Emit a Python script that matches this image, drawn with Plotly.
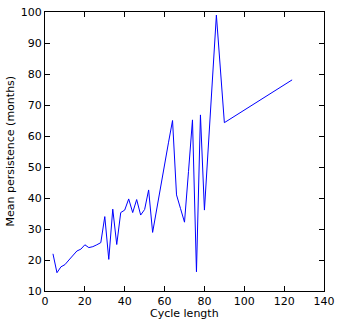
import plotly.graph_objects as go

cycle_length = [4, 6, 8, 10, 12, 14, 16, 18, 20, 22, 24, 26, 28, 30, 32, 34, 36, 38,
                40, 42, 44, 46, 48, 50, 52, 54, 56, 58, 60, 62, 64, 66, 68, 70, 72,
                74, 76, 78, 80, 86, 90, 124]
persistence = [22.0, 15.9, 17.8, 18.5, 20.0, 21.6, 22.9, 23.5, 24.9, 24.0, 24.3, 24.9,
               25.6, 34.0, 20.2, 36.4, 25.0, 35.3, 36.1, 39.7, 35.3, 39.5, 34.5, 36.3,
               42.6, 28.9, 36.5, 44.2, 51.0, 58.0, 65.0, 41.0, 36.6, 32.2, 48.5,
               65.2, 16.2, 66.8, 36.1, 99.0, 64.3, 78.1]

x_ticks = [0, 20, 40, 60, 80, 100, 120, 140]
y_ticks = [10, 20, 30, 40, 50, 60, 70, 80, 90, 100]

FONT = dict(family="DejaVu Sans", size=11, color="black")

fig = go.Figure()
fig.add_trace(go.Scatter(
    x=cycle_length,
    y=persistence,
    mode="lines",
    line=dict(color="#0000ff", width=1),
))

axis_style = dict(
    showline=True,
    linecolor="black",
    linewidth=1,
    mirror="ticks",
    ticks="inside",
    ticklen=5,
    tickcolor="black",
    showgrid=False,
    zeroline=False,
    automargin=False,
    tickfont=FONT,
)

fig.update_xaxes(range=[0, 140], tickvals=x_ticks, **axis_style)
fig.update_yaxes(range=[10, 100], tickvals=y_ticks, **axis_style)

# axis titles placed by hand (matplotlib puts them closer to the tick labels)
fig.add_annotation(text="Cycle length", x=0.5, y=0, xref="paper", yref="paper",
                   yanchor="middle", yshift=-22, showarrow=False, font=FONT)
fig.add_annotation(text="Mean persistence (months)", x=0, y=0.5, xref="paper", yref="paper",
                   xanchor="center", xshift=-35, textangle=-90, showarrow=False, font=FONT)

fig.update_layout(
    width=341,
    height=327,
    margin=dict(l=45, r=17, t=12, b=36),
    plot_bgcolor="white",
    paper_bgcolor="white",
    showlegend=False,
)

fig.write_html("out.html", config={"displayModeBar": False},
               post_script="document.body.style.margin='0';")
